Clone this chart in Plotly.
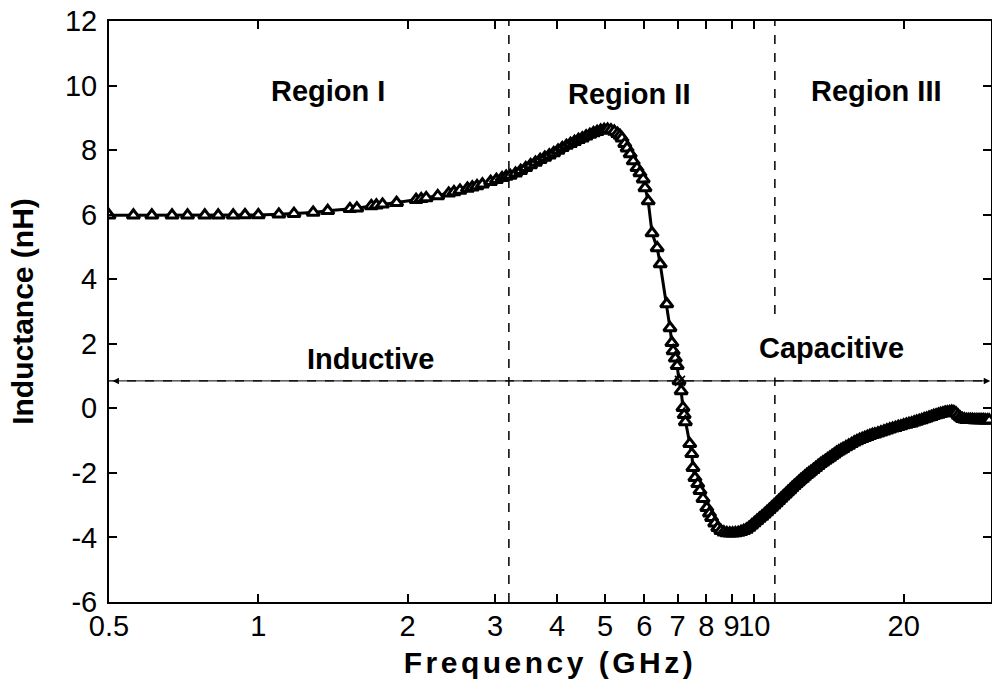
import math
import plotly.graph_objects as go

# ---- data ----
freq_low = [0.50, 0.56, 0.61, 0.67, 0.72, 0.78, 0.83, 0.89, 0.94, 1.00,
            1.10, 1.18, 1.29, 1.38, 1.53, 1.58, 1.69, 1.73, 1.78, 1.90,
            2.08, 2.13, 2.18, 2.30, 2.42, 2.48, 2.55, 2.64, 2.70, 2.76,
            2.83, 2.94, 3.02, 3.10, 3.16]
ind_low = [5.98, 5.98, 5.98, 5.98, 5.98, 5.98, 5.98, 5.98, 5.99, 5.99,
           6.01, 6.03, 6.07, 6.12, 6.18, 6.20, 6.27, 6.29, 6.32, 6.37,
           6.46, 6.49, 6.52, 6.58, 6.66, 6.70, 6.75, 6.81, 6.85, 6.89,
           6.94, 7.02, 7.08, 7.14, 7.18]

freq_peak = [3.22, 3.30, 3.38, 3.46, 3.54, 3.62, 3.70, 3.78, 3.86, 3.94,
             4.02, 4.10, 4.18, 4.26, 4.34, 4.42, 4.50, 4.58, 4.66, 4.74,
             4.82, 4.90, 4.98, 5.06, 5.14, 5.22, 5.30, 5.36]
ind_peak = [7.21, 7.28, 7.36, 7.45, 7.54, 7.62, 7.70, 7.77, 7.84, 7.91,
            7.99, 8.07, 8.14, 8.20, 8.26, 8.32, 8.37, 8.43, 8.48, 8.53,
            8.57, 8.61, 8.63, 8.64, 8.62, 8.58, 8.51, 8.45]

freq_drop = [5.41, 5.48, 5.54, 5.62, 5.70, 5.80, 5.88, 5.97, 6.02, 6.11,
             6.22, 6.37, 6.46, 6.66, 6.76, 6.82, 6.86, 6.93, 6.99, 7.05,
             7.12, 7.18, 7.22, 7.26, 7.41, 7.48, 7.52, 7.59, 7.69, 7.77,
             7.88, 8.02, 8.12, 8.20, 8.32, 8.44, 8.56, 8.68, 8.80, 8.92,
             9.04, 9.16, 9.28, 9.40]
ind_drop = [8.37, 8.20, 8.06, 7.88, 7.66, 7.45, 7.29, 7.10, 6.83, 6.42,
            5.43, 4.97, 4.47, 3.23, 2.49, 2.03, 1.78, 1.55, 1.32, 0.85,
            0.54, 0.02, -0.20, -0.42, -1.10, -1.41, -1.84, -2.15, -2.34, -2.55,
            -2.80, -3.08, -3.25, -3.39, -3.56, -3.70, -3.79, -3.84, -3.86, -3.87,
            -3.87, -3.86, -3.85, -3.82]

freq_high = [9.52, 9.64, 9.76, 9.88, 10.00, 10.12, 10.24, 10.36, 10.48, 10.60,
             10.72, 10.84, 10.96, 11.08, 11.20, 11.32, 11.44, 11.56, 11.68, 11.80,
             11.92, 12.04, 12.16, 12.28, 12.40, 12.52, 12.64, 12.76, 12.88, 13.00,
             13.15, 13.30, 13.45, 13.60, 13.75, 13.90, 14.05, 14.20, 14.35, 14.50,
             14.65, 14.80, 14.95, 15.10, 15.30, 15.50, 15.70, 15.90, 16.10, 16.30,
             16.50, 16.70, 16.90, 17.10, 17.30, 17.50, 17.75, 18.00, 18.25, 18.50,
             18.75, 19.00, 19.25, 19.50, 19.75, 20.00, 20.25, 20.50, 20.75, 21.00,
             21.25, 21.50, 21.75, 22.00, 22.25, 22.50, 22.75, 23.00, 23.25, 23.50,
             23.75, 24.00, 24.25, 24.50, 24.75, 25.00, 25.25, 25.50, 25.75, 26.00,
             26.25, 26.50, 26.75, 27.00, 27.25, 27.50, 27.75, 28.00, 28.25, 28.50,
             28.75, 29.00, 29.25, 29.50, 29.75]
ind_high = [-3.79, -3.75, -3.69, -3.62, -3.55, -3.48, -3.41, -3.35, -3.28, -3.21,
            -3.14, -3.07, -3.00, -2.93, -2.86, -2.79, -2.72, -2.66, -2.59, -2.53,
            -2.46, -2.40, -2.34, -2.28, -2.22, -2.17, -2.11, -2.06, -2.01, -1.96,
            -1.90, -1.84, -1.78, -1.72, -1.67, -1.62, -1.57, -1.52, -1.47, -1.42,
            -1.37, -1.33, -1.29, -1.25, -1.20, -1.15, -1.10, -1.05, -1.01, -0.97,
            -0.94, -0.91, -0.88, -0.85, -0.82, -0.80, -0.77, -0.74, -0.71, -0.68,
            -0.65, -0.62, -0.60, -0.57, -0.55, -0.52, -0.50, -0.48, -0.46, -0.43,
            -0.41, -0.38, -0.36, -0.33, -0.31, -0.28, -0.26, -0.23, -0.21, -0.19,
            -0.17, -0.15, -0.13, -0.12, -0.11, -0.10, -0.11, -0.15, -0.22, -0.28,
            -0.32, -0.34, -0.35, -0.35, -0.35, -0.35, -0.36, -0.36, -0.36, -0.36,
            -0.36, -0.36, -0.37, -0.37, -0.37]

freq_ghz = freq_low + freq_peak + freq_drop + freq_high
inductance_nh = ind_low + ind_peak + ind_drop + ind_high

x_tick_vals = [0.5, 1, 2, 3, 4, 5, 6, 7, 8, 9, 10, 20]
x_tick_text = ["0.5", "1", "2", "3", "4", "5", "6", "7", "8", "9", "10", "20"]
y_tick_vals = [-6, -4, -2, 0, 2, 4, 6, 8, 10, 12]
y_tick_text = ["-6", "-4", "-2", "0", "2", "4", "6", "8", "10", "12"]
x_range_ghz = [0.5, 30]
y_range_nh = [-6, 12]

region_bounds_ghz = [3.2, 11]
crossing_ghz = 7.08
arrow_level_nh = 0.85

region_labels = ["Region I", "Region II", "Region III"]
region_label_pos = [(1.38, 9.83), (5.59, 9.74), (17.6, 9.83)]
behaviour_labels = ["Inductive", "Capacitive"]
behaviour_label_pos = [(1.68, 1.53), (14.3, 1.87)]

FONT = "Liberation Sans, Arial, Helvetica, sans-serif"
lg = math.log10

fig = go.Figure()
fig.add_trace(go.Scatter(
    x=freq_ghz, y=inductance_nh, mode="lines+markers",
    line=dict(color="black", width=3),
    marker=dict(symbol="triangle-up", size=11, color="white",
                line=dict(color="black", width=3)),
    showlegend=False, hoverinfo="x+y"))

# crossing mark
fig.add_trace(go.Scatter(
    x=[crossing_ghz], y=[arrow_level_nh], mode="markers",
    marker=dict(symbol="x-thin", size=10, line=dict(color="black", width=1.5)),
    showlegend=False, hoverinfo="skip"))

shapes = []
for b in region_bounds_ghz:
    shapes.append(dict(type="line", xref="x", yref="paper", x0=b, x1=b,
                       y0=0, y1=1, line=dict(color="black", width=1.5, dash="dash"),
                       layer="below"))
shapes.append(dict(type="line", xref="x", yref="y", x0=x_range_ghz[0], x1=x_range_ghz[1],
                   y0=arrow_level_nh, y1=arrow_level_nh,
                   line=dict(color="black", width=1.2, dash="dash"), layer="below"))

annotations = []
for t, (fx, fy) in zip(region_labels, region_label_pos):
    annotations.append(dict(x=lg(fx), y=fy, xref="x", yref="y", text=t, showarrow=False,
                            font=dict(family=FONT, size=29, color="black", weight="bold")))
for i, (t, (fx, fy)) in enumerate(zip(behaviour_labels, behaviour_label_pos)):
    annotations.append(dict(x=lg(fx), y=fy, xref="x", yref="y", text=t, showarrow=False,
                            bgcolor="white" if i == 1 else None, borderpad=13 if i == 1 else 1,
                            font=dict(family=FONT, size=29, color="black", weight="bold")))
# arrows
annotations.append(dict(x=lg(0.508), y=arrow_level_nh, ax=lg(crossing_ghz), ay=arrow_level_nh,
                        xref="x", yref="y", axref="x", ayref="y", text="", showarrow=True,
                        arrowhead=2, arrowsize=1.3, arrowwidth=1, arrowcolor="black"))
annotations.append(dict(x=lg(29.9), y=arrow_level_nh, ax=lg(crossing_ghz), ay=arrow_level_nh,
                        xref="x", yref="y", axref="x", ayref="y", text="", showarrow=True,
                        arrowhead=2, arrowsize=1.3, arrowwidth=1, arrowcolor="black"))

fig.update_layout(
    width=992, height=686,
    margin=dict(l=109, r=1, t=21, b=84),
    paper_bgcolor="white", plot_bgcolor="white",
    font=dict(family=FONT, color="black"),
    shapes=shapes, annotations=annotations,
    xaxis=dict(type="log", range=[lg(x_range_ghz[0]), lg(x_range_ghz[1])],
               tickmode="array", tickvals=x_tick_vals, ticktext=x_tick_text,
               tickangle=0, ticks="inside", ticklen=8, tickwidth=1.5, tickcolor="black",
               showline=True, linecolor="black", linewidth=2, mirror="ticks",
               showgrid=False, zeroline=False, automargin=False,
               tickfont=dict(family=FONT, size=29, color="black"),
               ticklabelstandoff=-3,
               title=dict(text='<span style="letter-spacing:3.5px">Frequency (GHz)</span>',
                          font=dict(family=FONT, size=30, color="black", weight="bold"),
                          standoff=11)),
    yaxis=dict(range=y_range_nh, tickmode="array", tickvals=y_tick_vals, ticktext=y_tick_text,
               ticks="inside", ticklen=8, tickwidth=1.5, tickcolor="black",
               showline=True, linecolor="black", linewidth=2, mirror="ticks",
               showgrid=False, zeroline=False, automargin=False,
               tickfont=dict(family=FONT, size=29, color="black"),
               ticklabelstandoff=4,
               title=dict(text="Inductance (nH)",
                          font=dict(family=FONT, size=30, color="black", weight="bold"),
                          standoff=22)),
)

fig.write_html("out.html", config={"displayModeBar": False},
               post_script="document.body.style.margin='0';")
